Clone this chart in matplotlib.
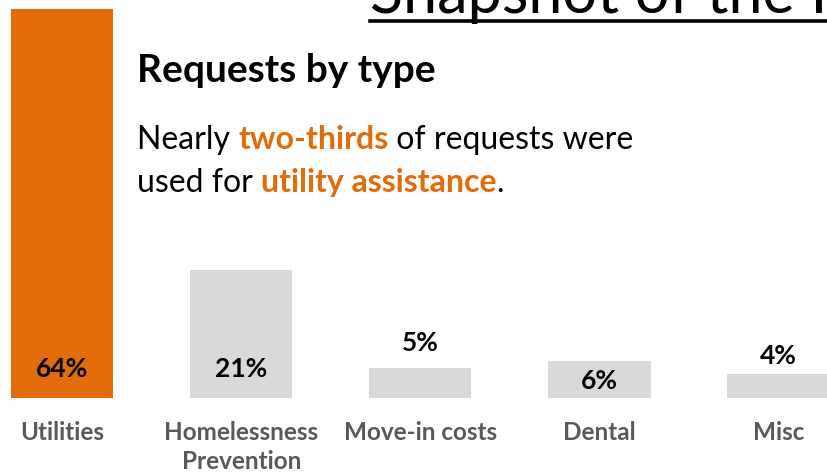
import matplotlib
matplotlib.use("Agg")
import matplotlib.pyplot as plt

categories = ["Utilities", "Homelessness\nPrevention", "Move-in costs", "Dental", "Misc"]
values = [64, 21, 5, 6, 4]
value_labels = ["64%", "21%", "5%", "6%", "4%"]
label_y = [4.7, 4.7, 9.0, 2.8, 6.9]   # where each % label sits (data units)

ORANGE = "#E36C0A"
GREY = "#D9D9D9"
DARKGREY = "#595959"

plt.rcParams["font.family"] = ["Lato", "DejaVu Sans"]

fig = plt.figure(figsize=(8.27, 4.73), dpi=100)
ax = fig.add_axes([0, 0, 1, 1])
colors = [ORANGE] + [GREY] * (len(values) - 1)
ax.bar(range(len(values)), values, width=0.57, color=colors)
ax.set_xlim(-0.349, 4.271)
ax.set_ylim(-12.34, 65.46)
ax.axis("off")

for i, (lab, y) in enumerate(zip(value_labels, label_y)):
    ax.text(i, y, lab, ha="center", va="center", fontsize=19,
            fontweight="bold", color="black")
for i, cat in enumerate(categories):
    for j, line in enumerate(cat.split("\n")):
        ax.text(i, -6.9 - 4.77 * j, line, ha="center", va="baseline",
                fontsize=17.5, fontweight="bold", color=DARKGREY)

# headings
fig.text(137 / 827, 1 - 82 / 473, "Requests by type", fontsize=28,
         fontweight="bold", color="black", va="baseline")

renderer = fig.canvas.get_renderer()


def runs(x_px, y_px, parts):
    x = x_px / 827
    for txt, bold, col in parts:
        t = fig.text(x, 1 - y_px / 473, txt, fontsize=23, color=col,
                     fontweight="bold" if bold else "normal", va="baseline")
        bb = t.get_window_extent(renderer)
        x = bb.x1 / fig.bbox.width


runs(137, 149, [("Nearly ", False, "black"), ("two-thirds", True, ORANGE),
                (" of requests were", False, "black")])
runs(137, 192, [("used for ", False, "black"), ("utility assistance", True, ORANGE),
                (".", False, "black")])

# page title, cut off by the top and right edges of the slide
fig.text(370 / 827, 1 - 13 / 473, "Snapshot of the Program", fontsize=44,
         color="black", va="baseline")
fig.add_artist(plt.Line2D([370 / 827, 1.0], [1 - 21 / 473] * 2,
                          transform=fig.transFigure, color="black", lw=2.6))

fig.savefig("out.png", dpi=100)
